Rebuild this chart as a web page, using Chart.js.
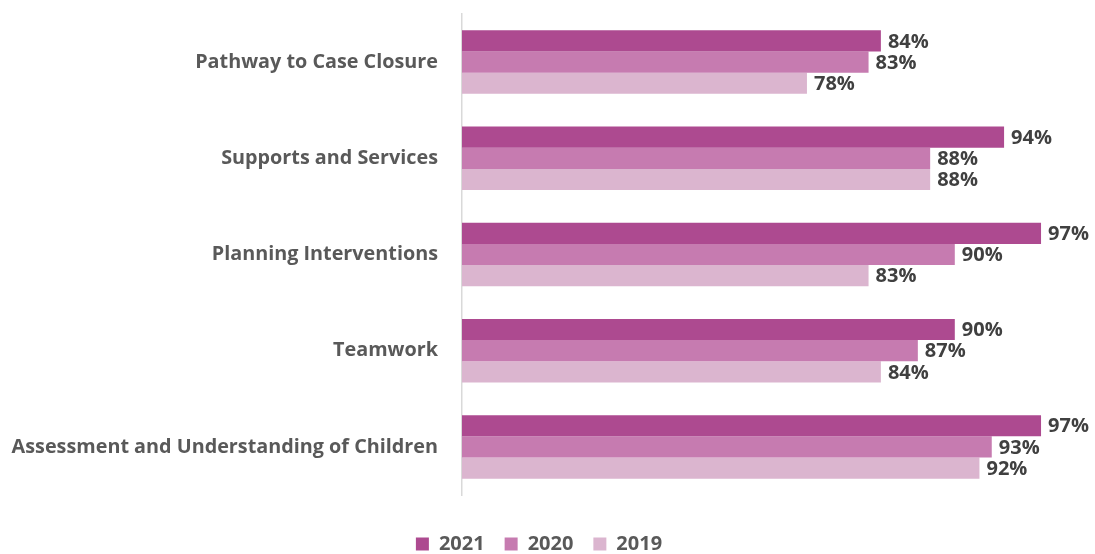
<!DOCTYPE html>
<html>
<head>
<meta charset="utf-8">
<script src="https://cdn.jsdelivr.net/npm/chart.js"></script>
<style>
  html, body { margin: 0; padding: 0; background: #fff; }
  #wrap { width: 1095px; height: 554px; }
</style>
</head>
<body>
<div id="wrap"><canvas id="chart" width="1095" height="554"></canvas></div>
<script>
    // 카테고리 및 연도별 값
    const categories = [
        'Pathway to Case Closure',
        'Supports and Services',
        'Planning Interventions',
        'Teamwork',
        'Assessment and Understanding of Children'
    ];
    const years = ['2021', '2020', '2019'];
    const values2021 = [84, 94, 97, 90, 97];
    const values2020 = [83, 88, 90, 87, 93];
    const values2019 = [78, 88, 83, 84, 92];
    const colors = ['#AD4A90', '#C67BB0', '#DBB5CF'];

    const FONT = '"Open Sans", "Noto Sans", sans-serif';

    // 막대 끝에 퍼센트 라벨 그리기
    const valueLabels = {
        id: 'valueLabels',
        afterDatasetsDraw(chart) {
            const ctx = chart.ctx;
            ctx.save();
            ctx.font = 'bold 20px ' + FONT;
            ctx.fillStyle = '#404040';
            ctx.textAlign = 'left';
            ctx.textBaseline = 'middle';
            chart.data.datasets.forEach((ds, i) => {
                chart.getDatasetMeta(i).data.forEach((bar, j) => {
                    ctx.fillText(ds.data[j] + '%', bar.x + 7, bar.y + 1);
                });
            });
            ctx.restore();
        }
    };

    new Chart(document.getElementById('chart'), {
        type: 'bar',
        data: {
            labels: categories,
            datasets: [
                { label: years[0], data: values2021, backgroundColor: colors[0] },
                { label: years[1], data: values2020, backgroundColor: colors[1] },
                { label: years[2], data: values2019, backgroundColor: colors[2] }
            ]
        },
        options: {
            indexAxis: 'y',
            responsive: false,
            animation: false,
            layout: { padding: { top: 14, right: 17, bottom: -10, left: 0 } },
            datasets: {
                bar: {
                    categoryPercentage: 0.66,
                    barPercentage: 1,
                    borderWidth: 0
                }
            },
            scales: {
                x: {
                    min: 50,
                    max: 100,
                    grid: { display: false },
                    border: { display: false },
                    ticks: { display: false },
                    // 범례와 막대 사이 여백
                    afterFit(scale) { scale.height = 19; }
                },
                y: {
                    grid: { display: false },
                    border: { color: '#D9D9D9', width: 1.5 },
                    afterFit(scale) {
                        scale.width = 462;
                        scale.paddingTop = 0;
                        scale.paddingBottom = 0;
                    },
                    ticks: {
                        padding: 16,
                        color: '#595959',
                        font: { family: FONT, size: 19.8, weight: 'bold' }
                    }
                }
            },
            plugins: {
                legend: {
                    position: 'bottom',
                    labels: {
                        boxWidth: 13,
                        boxHeight: 13,
                        padding: 20,
                        color: '#595959',
                        font: { family: FONT, size: 20, weight: 'bold' }
                    }
                },
                tooltip: { enabled: false }
            }
        },
        plugins: [valueLabels]
    });
</script>
</body>
</html>
